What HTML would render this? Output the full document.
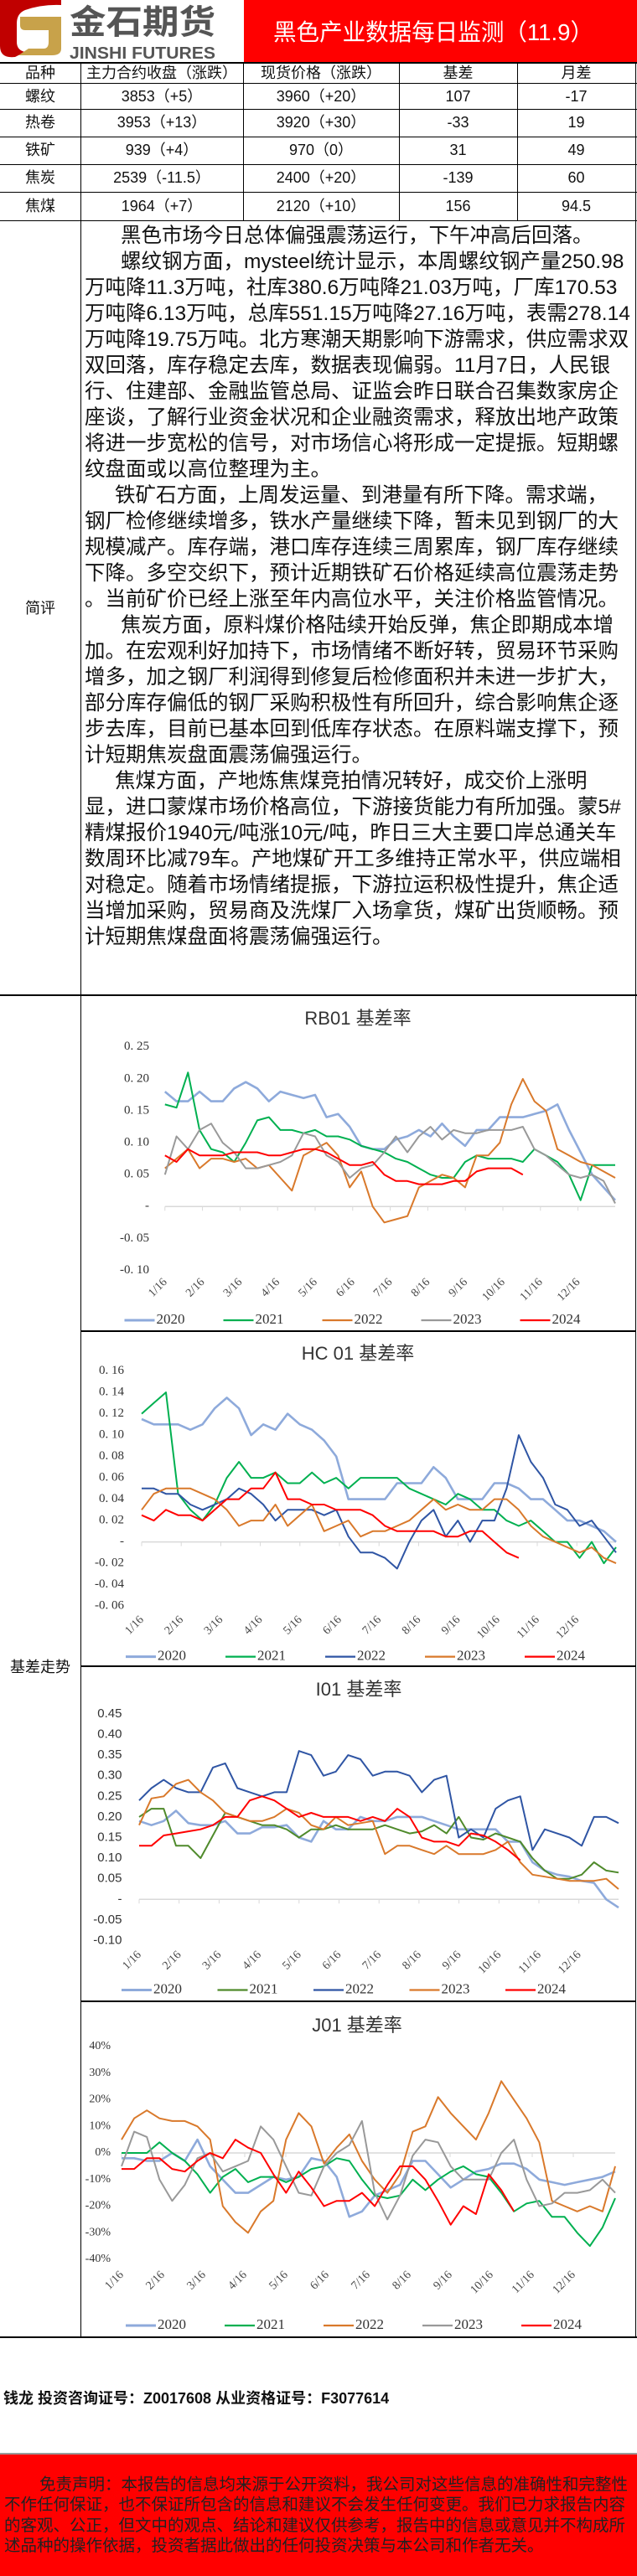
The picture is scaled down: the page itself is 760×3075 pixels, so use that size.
<!DOCTYPE html>
<html><head><meta charset="utf-8">
<style>
html,body{margin:0;padding:0;background:#fff;}
body{width:760px;height:3075px;position:relative;overflow:hidden;font-family:"Liberation Sans","Noto Sans CJK SC",sans-serif;color:#111;}
.abs{position:absolute;}
.cell{position:absolute;font-size:18px;text-align:center;white-space:nowrap;line-height:20px;}
.ln{position:absolute;font-size:24.5px;white-space:nowrap;line-height:31px;left:101px;}
.hl{position:absolute;background:#000;height:1px;}
.vl{position:absolute;background:#000;width:1px;}
.dl{position:absolute;font-size:19.5px;white-space:nowrap;line-height:24.5px;color:#222;}
</style></head>
<body>
<!-- Header -->
<svg class="abs" style="left:0;top:0" width="760" height="75">
  <g>
    <path d="M0,0 H73 V6 Q50,5 30,12 Q20,16 20,28 V50 Q20,60 30,62 L18,68 Q0,70 0,55 Z" fill="#c00000"/>
    <path d="M24,20 H73 V58 Q73,66 62,66 H22 L34,58 H52 Q58,58 58,50 V36 H30 Q24,36 24,30 Z" fill="#c8a24a"/>
    <text x="83" y="40" font-size="40" font-weight="bold" fill="#555" textLength="174" lengthAdjust="spacingAndGlyphs" font-family="Noto Sans CJK SC, sans-serif">金石期货</text>
    <text x="83" y="70" font-size="20" font-weight="bold" fill="#555" textLength="174" lengthAdjust="spacingAndGlyphs" font-family="Liberation Sans, sans-serif">JINSHI FUTURES</text>
  </g>
  <rect x="291" y="0" width="469" height="74" fill="#ff0000"/>
  <text x="326" y="48" font-size="28" fill="#fff" textLength="382" lengthAdjust="spacingAndGlyphs" font-family="Liberation Sans, Noto Sans CJK SC, sans-serif">黑色产业数据每日监测（11.9）</text>
</svg>

<!-- Table grid lines -->
<div class="hl" style="left:0;top:74px;width:760px;height:2px"></div>
<div class="hl" style="left:0;top:99px;width:760px"></div>
<div class="hl" style="left:0;top:130px;width:760px"></div>
<div class="hl" style="left:0;top:163px;width:760px"></div>
<div class="hl" style="left:0;top:196px;width:760px"></div>
<div class="hl" style="left:0;top:229px;width:760px"></div>
<div class="hl" style="left:0;top:263px;width:760px"></div>
<div class="hl" style="left:0;top:1187px;width:760px;height:2px"></div>
<div class="vl" style="left:96px;top:75px;height:2714px"></div>
<div class="vl" style="left:290px;top:75px;height:188px"></div>
<div class="vl" style="left:476px;top:75px;height:188px"></div>
<div class="vl" style="left:617px;top:75px;height:188px"></div>
<div class="vl" style="left:758px;top:75px;height:2714px"></div>
<div class="hl" style="left:96px;top:1588px;width:663px;height:2px"></div>
<div class="hl" style="left:96px;top:1988px;width:663px;height:2px"></div>
<div class="hl" style="left:96px;top:2388px;width:663px;height:2px"></div>
<div class="hl" style="left:0;top:2789px;width:760px;height:2px"></div>

<!-- Table cells -->
<div class="cell" style="left:0;width:96px;top:77px">品种</div>
<div class="cell" style="left:96px;width:194px;top:77px">主力合约收盘（涨跌）</div>
<div class="cell" style="left:290px;width:186px;top:77px">现货价格（涨跌）</div>
<div class="cell" style="left:476px;width:141px;top:77px">基差</div>
<div class="cell" style="left:617px;width:141px;top:77px">月差</div>

<div class="cell" style="left:0;width:96px;top:105px">螺纹</div>
<div class="cell" style="left:96px;width:194px;top:105px">3853（+5）</div>
<div class="cell" style="left:290px;width:186px;top:105px">3960（+20）</div>
<div class="cell" style="left:476px;width:141px;top:105px">107</div>
<div class="cell" style="left:617px;width:141px;top:105px">-17</div>

<div class="cell" style="left:0;width:96px;top:136px">热卷</div>
<div class="cell" style="left:96px;width:194px;top:136px">3953（+13）</div>
<div class="cell" style="left:290px;width:186px;top:136px">3920（+30）</div>
<div class="cell" style="left:476px;width:141px;top:136px">-33</div>
<div class="cell" style="left:617px;width:141px;top:136px">19</div>

<div class="cell" style="left:0;width:96px;top:169px">铁矿</div>
<div class="cell" style="left:96px;width:194px;top:169px">939（+4）</div>
<div class="cell" style="left:290px;width:186px;top:169px">970（0）</div>
<div class="cell" style="left:476px;width:141px;top:169px">31</div>
<div class="cell" style="left:617px;width:141px;top:169px">49</div>

<div class="cell" style="left:0;width:96px;top:202px">焦炭</div>
<div class="cell" style="left:96px;width:194px;top:202px">2539（-11.5）</div>
<div class="cell" style="left:290px;width:186px;top:202px">2400（+20）</div>
<div class="cell" style="left:476px;width:141px;top:202px">-139</div>
<div class="cell" style="left:617px;width:141px;top:202px">60</div>

<div class="cell" style="left:0;width:96px;top:236px">焦煤</div>
<div class="cell" style="left:96px;width:194px;top:236px">1964（+7）</div>
<div class="cell" style="left:290px;width:186px;top:236px">2120（+10）</div>
<div class="cell" style="left:476px;width:141px;top:236px">156</div>
<div class="cell" style="left:617px;width:141px;top:236px">94.5</div>

<!-- Comment -->
<div class="cell" style="left:0;width:96px;top:716px">简评</div>
<div>
<div class="ln" style="top:266px;left:144px">黑色市场今日总体偏强震荡运行，下午冲高后回落。</div>
<div class="ln" style="top:297px;left:144px">螺纹钢方面，mysteel统计显示，本周螺纹钢产量250.98</div>
<div class="ln" style="top:328px">万吨降11.3万吨，社库380.6万吨降21.03万吨，厂库170.53</div>
<div class="ln" style="top:359px">万吨降6.13万吨，总库551.15万吨降27.16万吨，表需278.14</div>
<div class="ln" style="top:390px">万吨降19.75万吨。北方寒潮天期影响下游需求，供应需求双</div>
<div class="ln" style="top:421px">双回落，库存稳定去库，数据表现偏弱。11月7日，人民银</div>
<div class="ln" style="top:452px">行、住建部、金融监管总局、证监会昨日联合召集数家房企</div>
<div class="ln" style="top:483px">座谈，了解行业资金状况和企业融资需求，释放出地产政策</div>
<div class="ln" style="top:514px">将进一步宽松的信号，对市场信心将形成一定提振。短期螺</div>
<div class="ln" style="top:545px">纹盘面或以高位整理为主。</div>
<div class="ln" style="top:576px;left:137px">铁矿石方面，上周发运量、到港量有所下降。需求端，</div>
<div class="ln" style="top:607px">钢厂检修继续增多，铁水产量继续下降，暂未见到钢厂的大</div>
<div class="ln" style="top:638px">规模减产。库存端，港口库存连续三周累库，钢厂库存继续</div>
<div class="ln" style="top:669px">下降。多空交织下，预计近期铁矿石价格延续高位震荡走势</div>
<div class="ln" style="top:700px">。当前矿价已经上涨至年内高位水平，关注价格监管情况。</div>
<div class="ln" style="top:731px;left:144px">焦炭方面，原料煤价格陆续开始反弹，焦企即期成本增</div>
<div class="ln" style="top:762px">加。在宏观利好加持下，市场情绪不断好转，贸易环节采购</div>
<div class="ln" style="top:793px">增多，加之钢厂利润得到修复后检修面积并未进一步扩大，</div>
<div class="ln" style="top:824px">部分库存偏低的钢厂采购积极性有所回升，综合影响焦企逐</div>
<div class="ln" style="top:855px">步去库，目前已基本回到低库存状态。在原料端支撑下，预</div>
<div class="ln" style="top:886px">计短期焦炭盘面震荡偏强运行。</div>
<div class="ln" style="top:917px;left:137px">焦煤方面，产地炼焦煤竞拍情况转好，成交价上涨明</div>
<div class="ln" style="top:948px">显，进口蒙煤市场价格高位，下游接货能力有所加强。蒙5#</div>
<div class="ln" style="top:979px">精煤报价1940元/吨涨10元/吨，昨日三大主要口岸总通关车</div>
<div class="ln" style="top:1010px">数周环比减79车。产地煤矿开工多维持正常水平，供应端相</div>
<div class="ln" style="top:1041px">对稳定。随着市场情绪提振，下游拉运积极性提升，焦企适</div>
<div class="ln" style="top:1072px">当增加采购，贸易商及洗煤厂入场拿货，煤矿出货顺畅。预</div>
<div class="ln" style="top:1103px">计短期焦煤盘面将震荡偏强运行。</div>
</div>

<div class="cell" style="left:0;width:96px;top:1980px">基差走势</div>

<svg id="charts" class="abs" style="left:0;top:0" width="760" height="3075"></svg>

<!-- Footer -->
<div class="abs" style="left:4px;top:2849px;font-size:18px;font-weight:bold;white-space:nowrap">钱龙 投资咨询证号：Z0017608 从业资格证号：F3077614</div>
<div class="hl" style="left:0;top:2928px;width:760px;background:#999;height:2px"></div>
<div class="abs" style="left:0;top:2930px;width:760px;height:145px;background:#ff0000">
<div class="dl" style="left:47px;top:24px">免责声明：本报告的信息均来源于公开资料，我公司对这些信息的准确性和完整性</div>
<div class="dl" style="left:5px;top:48px">不作任何保证，也不保证所包含的信息和建议不会发生任何变更。我们已力求报告内容</div>
<div class="dl" style="left:5px;top:73px">的客观、公正，但文中的观点、结论和建议仅供参考，报告中的信息或意见并不构成所</div>
<div class="dl" style="left:5px;top:97px">述品种的操作依据，投资者据此做出的任何投资决策与本公司和作者无关。</div>
</div>

<script>
const months = ["1/16","2/16","3/16","4/16","5/16","6/16","7/16","8/16","9/16","10/16","11/16","12/16"];
const years = ["2020","2021","2022","2023","2024"];

const rbTicks = [0.25,0.2,0.15,0.1,0.05,0,-0.05,-0.1];
const rbTickLabels = ["0. 25","0. 20","0. 15","0. 10","0. 05","-","-0. 05","-0. 10"];
const rb2020 = [.18,.165,.165,.18,.165,.165,.185,.195,.185,.165,.18,.175,.17,.175,.14,.145,.125,.095,.09,.09,.105,.11,.12,.11,.13,.11,.095,.12,.12,.14,.14,.14,.145,.15,.16,.12,.085,.05,.03,.01];
const rb2021 = [.16,.155,.21,.12,.09,.085,.07,.1,.135,.14,.12,.12,.115,.12,.11,.11,.105,.095,.09,.085,.075,.07,.06,.05,.045,.045,.07,.08,.075,.075,.075,.07,.09,.08,.07,.05,.01,.065,.065,.065];
const rb2022 = [.06,.075,.09,.06,.075,.075,.07,.075,.06,.065,.045,.025,.08,.09,.1,.08,.03,.055,0,-.025,-.02,-.015,.03,.04,.05,.045,.03,.08,.08,.1,.16,.2,.165,.15,.09,.08,.07,.065,.055,.045];
const rb2023 = [.05,.11,.09,.12,.13,.1,.085,.06,.06,.065,.07,.08,.115,.11,.08,.07,.045,.06,.065,.085,.11,.085,.11,.125,.105,.12,.115,.115,.12,.12,.12,.125,.09,.08,.065,.05,.045,.05,.04,.005];
const rb2024 = [.08,.07,.09,.08,.08,.08,.085,.085,.085,.08,.08,.085,.09,.09,.085,.075,.065,.065,.07,.05,.04,.04,.035,.035,.035,.04,.04,.055,.06,.06,.06,.05];

const hcTicks = [0.16,0.14,0.12,0.1,0.08,0.06,0.04,0.02,0,-0.02,-0.04,-0.06];
const hcTickLabels = ["0. 16","0. 14","0. 12","0. 10","0. 08","0. 06","0. 04","0. 02","-","-0. 02","-0. 04","-0. 06"];
const hc2020 = [.115,.11,.11,.11,.105,.11,.125,.135,.125,.1,.11,.105,.12,.11,.105,.095,.08,.04,.04,.04,.04,.055,.055,.055,.07,.06,.04,.04,.04,.055,.055,.05,.04,.04,.03,.02,.02,.015,.01,0];
const hc2021 = [.12,.13,.14,.045,.03,.02,.035,.06,.075,.06,.06,.065,.055,.055,.065,.055,.06,.05,.06,.06,.06,.06,.05,.045,.04,.035,.045,.04,.03,.03,.02,.015,.02,.01,0,0,-.015,0,-.02,-.005];
const hc2022 = [.05,.05,.045,.045,.035,.03,.035,.04,.05,.045,.035,.02,.03,.03,.03,.025,.03,.005,-.01,-.01,-.015,-.025,0,.02,.03,.005,.02,0,.02,.02,.05,.1,.075,.06,.035,.03,.015,.02,.005,-.01];
const hc2023 = [.03,.045,.05,.05,.05,.045,.04,.03,.015,.02,.02,.035,.015,.025,.035,.01,.015,.02,.005,.01,.01,.015,.02,.03,.04,.03,.035,.03,.03,.04,.04,.03,.015,.005,0,-.005,-.01,-.005,-.015,-.02];
const hc2024 = [.025,.02,.03,.025,.025,.02,.03,.04,.04,.05,.05,.065,.04,.04,.035,.035,.03,.03,.03,.025,.015,.01,.01,.01,.01,.005,.005,.01,.01,0,-.01,-.015];

const iTicks = [0.45,0.4,0.35,0.3,0.25,0.2,0.15,0.1,0.05,0,-0.05,-0.1];
const iTickLabels = ["0.45","0.40","0.35","0.30","0.25","0.20","0.15","0.10","0.05","-","-0.05","-0.10"];
const i2020 = [.19,.18,.19,.215,.185,.18,.18,.19,.16,.16,.175,.175,.18,.15,.14,.19,.17,.17,.2,.19,.19,.2,.2,.2,.19,.18,.17,.17,.17,.17,.14,.14,.09,.07,.06,.055,.045,.04,0,-.02];
const i2021 = [.2,.22,.22,.13,.13,.1,.155,.21,.2,.19,.18,.18,.17,.15,.17,.17,.18,.17,.17,.17,.18,.17,.16,.165,.18,.16,.2,.15,.145,.16,.15,.14,.1,.07,.05,.05,.06,.09,.07,.065];
const i2022 = [.24,.27,.29,.27,.26,.26,.32,.33,.27,.26,.25,.26,.26,.36,.35,.3,.31,.35,.34,.3,.31,.31,.3,.26,.29,.3,.15,.17,.15,.22,.24,.25,.12,.17,.16,.15,.13,.2,.2,.185];
const i2023 = [.18,.245,.25,.28,.29,.26,.24,.21,.2,.19,.19,.2,.22,.21,.18,.17,.2,.18,.185,.19,.11,.13,.13,.12,.11,.13,.11,.11,.11,.12,.14,.09,.06,.055,.05,.045,.045,.045,.05,.025];
const i2024 = [.13,.13,.155,.16,.165,.17,.18,.2,.2,.24,.25,.24,.22,.2,.21,.2,.2,.2,.19,.2,.19,.22,.2,.15,.14,.14,.13,.16,.155,.14,.12,.095];

const jTicks = [40,30,20,10,0,-10,-20,-30,-40];
const jTickLabels = ["40%","30%","20%","10%","0%","-10%","-20%","-30%","-40%"];
const j2020 = [-2,-2,-3,-3,0,-3,5,-5,-10,-15,-15,-12,-9,-10,-9,-2,-3,-9,-24,-22,-16,-14,-12,-3,-3,-8,-13,-10,-7,-6,-4,-4,-6,-10,-11,-12,-11,-10,-9,-7];
const j2021 = [0,0,0,4,0,-3,-8,-15,-9,-6,-11,-9,-9,-11,-9,-6,-5,-2,-3,-10,-16,-17,-16,-10,-14,-10,-7,-5,-8,-9,-15,-22,-19,-18,-24,-24,-30,-35,-28,-17];
const j2022 = [5,13,16,13,12,12,10,5,-20,-26,-30,-22,-18,5,15,10,-4,2,7,-3,-10,-15,-8,8,10,21,15,10,5,15,27,20,13,4,-18,-20,-22,-20,-22,-5];
const j2023 = [-5,8,6,-10,-18,-12,-2,0,-7,-5,-3,10,5,-5,-15,-16,-5,0,3,12,-15,-25,-16,-1,5,4,-5,-10,-10,-10,0,5,-10,-20,-19,-15,-15,-14,-10,-15];
const j2024 = [-6,-6,-2,-2,-6,-7,-3,0,-2,5,2,0,-8,-15,-7,-13,-20,-18,-18,-15,-20,-12,-5,-5,-10,-18,-27,-20,-23,-8,-14,-22];

const NS = "http://www.w3.org/2000/svg";
const svg = document.getElementById("charts");
function mk(tag, attrs, parent){ const e=document.createElementNS(NS,tag); for(const k in attrs) e.setAttribute(k,attrs[k]); (parent||svg).appendChild(e); return e; }

function drawChart(cfg, ticks, tickLabels, series, colors){
  const g = mk("g",{});
  
  
  const yOf = v => cfg.zeroY - v*cfg.ppu;
  const step = (cfg.x1-cfg.x0)/39;
  const xOf = i => cfg.x0 + i*step;
  const t = mk("text",{x:cfg.titleX,y:cfg.titleY,"text-anchor":"middle","dominant-baseline":"middle","font-size":22,fill:"#333","font-family":"Liberation Sans, Noto Sans CJK SC, sans-serif"},g);
  t.textContent = cfg.title;
  
  
  ticks.forEach((v,k)=>{
    const tl = mk("text",{x:cfg.labelX,y:yOf(v),"text-anchor":"end","dominant-baseline":"middle","font-size":cfg.tickSize,fill:"#333","font-family":cfg.tickFont},g);
    tl.textContent = tickLabels[k];
    
    
  });
  const ax = mk("line",{x1:cfg.x0,x2:cfg.x1,y1:yOf(0),y2:yOf(0),stroke:"#d9d9d9","stroke-width":1.5},g);
  
  
  months.forEach((m,k)=>{
    const tx = cfg.x0 + k*cfg.monthStep;
    const tk = mk("line",{x1:tx,x2:tx,y1:yOf(0),y2:yOf(0)+5,stroke:"#d9d9d9","stroke-width":1},g);
    
    
    const ml = mk("text",{x:tx+3,y:cfg.monthY,"text-anchor":"end","font-size":14,fill:"#444","font-family":"Liberation Serif, serif",transform:"rotate(-45 "+(tx+3)+" "+cfg.monthY+")"},g);
    ml.textContent = m;
    
    
  });
  series.forEach((s,k)=>{
    const pts = s.map((v,i)=>xOf(i).toFixed(1)+","+yOf(v).toFixed(1)).join(" ");
    const pl = mk("polyline",{points:pts,fill:"none",stroke:colors[k],"stroke-width":k==0?2.6:2,"stroke-linejoin":"round"},g);
    
    
    const lx = cfg.legendX + k*cfg.legendStep;
    const ll = mk("line",{x1:lx,x2:lx+36,y1:cfg.legendY,y2:cfg.legendY,stroke:colors[k],"stroke-width":k==0?3:2.2},g);
    
    
    const lt = mk("text",{x:lx+38,y:cfg.legendY,"dominant-baseline":"middle","font-size":17,fill:"#333","font-family":"Liberation Serif, serif"},g);
    lt.textContent = years[k];
    
    
  });
}

const LB="#8eaadb", GR="#00b050", OR="#d9792b", GY="#999999", RD="#ff0000", DB="#2f55a4", OL="#4f8a2b";

drawChart({name:"rb01-chart",title:"RB01 基差率",titleX:427,titleY:1217,x0:196.8,x1:734,zeroY:1440.3,ppu:762,labelX:178,tickSize:15,tickFont:"Liberation Serif, serif",monthStep:44.8,monthY:1531,legendX:148.5,legendY:1576,legendStep:118},
  rbTicks, rbTickLabels, [rb2020,rb2021,rb2022,rb2023,rb2024], [LB,GR,OR,GY,RD]);
drawChart({name:"hc01-chart",title:"HC 01 基差率",titleX:427,titleY:1617,x0:169,x1:735,zeroY:1840.6,ppu:1275,labelX:148,tickSize:15,tickFont:"Liberation Serif, serif",monthStep:47.2,monthY:1934,legendX:150,legendY:1977.6,legendStep:119},
  hcTicks, hcTickLabels, [hc2020,hc2021,hc2022,hc2023,hc2024], [LB,GR,DB,OR,RD]);
drawChart({name:"i01-chart",title:"I01 基差率",titleX:428,titleY:2018,x0:166,x1:738,zeroY:2267.3,ppu:492,labelX:145.5,tickSize:15,tickFont:"Liberation Sans, sans-serif",monthStep:47.7,monthY:2334,legendX:145,legendY:2375.5,legendStep:114.5},
  iTicks, iTickLabels, [i2020,i2021,i2022,i2023,i2024], [LB,OL,DB,OR,RD]);
drawChart({name:"j01-chart",title:"J01 基差率",titleX:426,titleY:2419,x0:145,x1:734,zeroY:2570,ppu:3.175,labelX:132,tickSize:14,tickFont:"Liberation Serif, serif",monthStep:49,monthY:2716,legendX:150,legendY:2776,legendStep:118},
  jTicks, jTickLabels, [j2020,j2021,j2022,j2023,j2024], [LB,GR,OR,GY,RD]);
</script>
</body></html>
